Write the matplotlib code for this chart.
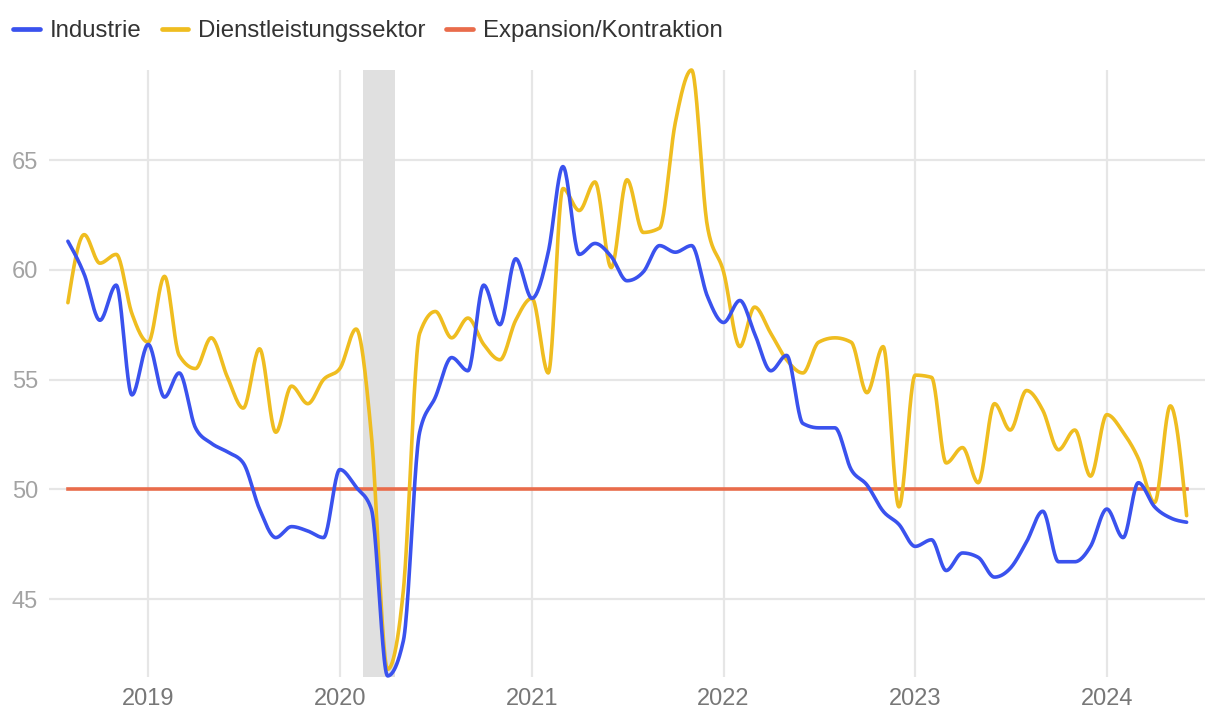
import numpy as np
import pandas as pd
import matplotlib
matplotlib.use("Agg")
import matplotlib.pyplot as plt
import matplotlib.dates as mdates

# ---------------- data ----------------
start_month = "2018-08-01"
end_month = "2024-06-01"
industrie = [
    61.3, 59.8, 57.7, 59.3, 54.3,
    56.6, 54.2, 55.3, 52.8, 52.1, 51.7, 51.2, 49.1, 47.8, 48.3, 48.1, 47.8,
    50.9, 50.1, 49.1, 41.5, 43.1, 52.6, 54.2, 56.0, 55.4, 59.3, 57.5, 60.5,
    58.7, 60.8, 64.7, 60.7, 61.2, 60.6, 59.5, 59.9, 61.1, 60.8, 61.1, 58.8,
    57.6, 58.6, 57.1, 55.4, 56.1, 53.0, 52.8, 52.8, 50.9, 50.2, 49.0, 48.4,
    47.4, 47.7, 46.3, 47.1, 46.9, 46.0, 46.4, 47.6, 49.0, 46.7, 46.7, 47.4,
    49.1, 47.8, 50.3, 49.2, 48.7, 48.5,
]
dienstleistung = [
    58.5, 61.6, 60.3, 60.7, 58.0,
    56.7, 59.7, 56.1, 55.5, 56.9, 55.1, 53.7, 56.4, 52.6, 54.7, 53.9, 55.0,
    55.5, 57.3, 52.5, 41.8, 45.4, 57.1, 58.1, 56.9, 57.8, 56.6, 55.9, 57.7,
    58.7, 55.3, 63.7, 62.7, 64.0, 60.1, 64.1, 61.7, 61.9, 66.7, 69.1, 62.0,
    59.9, 56.5, 58.3, 57.1, 55.9, 55.3, 56.7, 56.9, 56.7, 54.4, 56.5, 49.2,
    55.2, 55.1, 51.2, 51.9, 50.3, 53.9, 52.7, 54.5, 53.6, 51.8, 52.7, 50.6,
    53.4, 52.6, 51.4, 49.4, 53.8, 48.8,
]
threshold = 50
recession_start = "2020-02-15"
recession_end = "2020-04-16"
series_labels = ["Industrie", "Dienstleistungssektor", "Expansion/Kontraktion"]
y_ticks = [45, 50, 55, 60, 65]
x_tick_years = [2019, 2020, 2021, 2022, 2023, 2024]

dates = pd.date_range(start_month, end_month, freq="MS")
xd = mdates.date2num(dates)


def monotone_x(x, y, n=24):
    """Monotone cubic curve (as d3.curveMonotoneX) through the data points."""
    x = np.asarray(x, float)
    y = np.asarray(y, float)
    h = np.diff(x)
    s = np.diff(y) / h
    t = np.zeros_like(y)
    for i in range(1, len(y) - 1):
        h0, h1 = h[i - 1], h[i]
        s0, s1 = s[i - 1], s[i]
        p = (s0 * h1 + s1 * h0) / (h0 + h1)
        t[i] = (np.sign(s0) + np.sign(s1)) * min(abs(s0), abs(s1), 0.5 * abs(p))
    t[0] = (3 * s[0] - t[1]) / 2
    t[-1] = (3 * s[-1] - t[-2]) / 2
    xs, ys = [], []
    u = np.linspace(0, 1, n, endpoint=False)
    for i in range(len(y) - 1):
        dx = h[i]
        h00 = 2 * u**3 - 3 * u**2 + 1
        h10 = u**3 - 2 * u**2 + u
        h01 = -2 * u**3 + 3 * u**2
        h11 = u**3 - u**2
        xs.append(x[i] + u * dx)
        ys.append(h00 * y[i] + h10 * dx * t[i] + h01 * y[i + 1] + h11 * dx * t[i + 1])
    xs.append([x[-1]])
    ys.append([y[-1]])
    return np.concatenate(xs), np.concatenate(ys)


plt.rcParams["font.family"] = ["Liberation Sans", "DejaVu Sans"]

fig = plt.figure(figsize=(12.2, 7.22), dpi=100)
ax = fig.add_axes([49 / 1220, 1 - 677 / 722, (1205 - 49) / 1220, (677 - 70) / 722])

c_ind = "#3a52ee"
c_dl = "#efbd20"
c_th = "#e96c4b"
grid_c = "#e6e6e6"

ax.axvspan(mdates.datestr2num(recession_start), mdates.datestr2num(recession_end),
           color="#e0e0e0", lw=0, zorder=1)

for yv in y_ticks:
    ax.axhline(yv, color=grid_c, lw=1.6, zorder=0)
for yr in x_tick_years:
    ax.axvline(mdates.date2num(pd.Timestamp(f"{yr}-01-01")), color=grid_c, lw=1.6, zorder=0)

xs, ys = monotone_x(xd, industrie)
ax.plot(xs, ys, color=c_ind, lw=2.6, label=series_labels[0], zorder=4,
        solid_capstyle="round", clip_on=False)
xs, ys = monotone_x(xd, dienstleistung)
ax.plot(xs, ys, color=c_dl, lw=2.6, label=series_labels[1], zorder=3,
        solid_capstyle="round", clip_on=False)
ax.plot(xd, [threshold] * len(xd), color=c_th, lw=2.6, label=series_labels[2], zorder=2)

ax.set_xlim(xd[0] - 36, xd[-1] + 35)
ax.set_ylim(41.45, 69.1)

ax.set_yticks(y_ticks)
ax.set_yticklabels([str(v) for v in y_ticks])
ax.set_xticks([mdates.date2num(pd.Timestamp(f"{yr}-01-01")) for yr in x_tick_years])
ax.set_xticklabels([str(yr) for yr in x_tick_years])
ax.tick_params(axis="y", length=0, pad=8, labelsize=17, labelcolor="#a3a3a3")
ax.tick_params(axis="x", length=0, pad=8, labelsize=17, labelcolor="#777777")
for sp in ax.spines.values():
    sp.set_visible(False)

leg = fig.legend(loc="upper left", bbox_to_anchor=(-0.002, 0.994), ncol=3, frameon=False,
                 fontsize=17.3, handlelength=1.1, handletextpad=0.42, columnspacing=0.85,
                 borderaxespad=0.35, borderpad=0.3)
for txt in leg.get_texts():
    txt.set_color("#333333")
for line in leg.get_lines():
    line.set_linewidth(3.4)
    line.set_solid_capstyle("round")

fig.savefig("out.png", dpi=100)
